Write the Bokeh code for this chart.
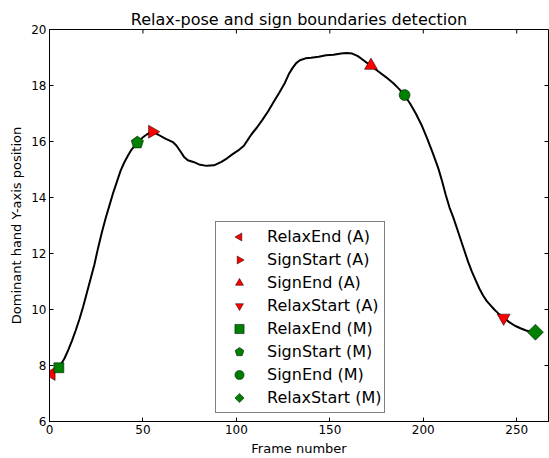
import math
from bokeh.plotting import figure
from bokeh.models import Range1d, Legend, LegendItem, FixedTicker, ColumnDataSource
from bokeh.embed import file_html
from bokeh.resources import INLINE

# ---- data ----
frames = [0, 2, 5, 8, 10, 12, 14, 16, 18, 20, 22, 24, 26, 28, 30, 32, 34, 36, 38, 40,
          42, 44, 47, 50, 52, 55, 58, 62, 66, 68, 70, 72, 74, 77, 80, 84, 88, 92, 95, 98,
          101, 104, 106, 108, 111, 114, 117, 120, 123, 126, 128, 130, 132, 134, 137, 140,
          144, 148, 152, 156, 159, 162, 165, 168, 172, 176, 180, 184, 187, 190, 193, 196,
          199, 202, 205, 208, 210, 212, 214, 216, 218, 220, 222, 224, 226, 228, 230, 232,
          234, 236, 238, 240, 243, 246, 249, 252, 255, 258, 260]
ypos = [7.70, 7.78, 7.92, 8.25, 8.55, 8.88, 9.25, 9.65, 10.1, 10.6, 11.1, 11.6, 12.2, 12.75,
        13.25, 13.7, 14.15, 14.55, 14.95, 15.25, 15.5, 15.72, 15.96, 16.15, 16.25, 16.35,
        16.25, 16.1, 15.98, 15.85, 15.65, 15.45, 15.33, 15.27, 15.18, 15.13, 15.15, 15.27,
        15.4, 15.55, 15.68, 15.85, 16.05, 16.25, 16.5, 16.78, 17.08, 17.42, 17.75, 18.1,
        18.4, 18.62, 18.8, 18.9, 18.97, 18.99, 19.03, 19.08, 19.1, 19.14, 19.16, 19.14,
        19.05, 18.9, 18.7, 18.5, 18.3, 18.08, 17.88, 17.65, 17.35, 17.0, 16.6, 16.12, 15.6,
        15.05, 14.6, 14.1, 13.65, 13.3, 12.9, 12.5, 12.1, 11.7, 11.35, 11.05, 10.75, 10.5,
        10.3, 10.15, 10.0, 9.87, 9.7, 9.55, 9.42, 9.33, 9.25, 9.2, 9.19]

event_labels = ["RelaxEnd (A)", "SignStart (A)", "SignEnd (A)", "RelaxStart (A)",
                "RelaxEnd (M)", "SignStart (M)", "SignEnd (M)", "RelaxStart (M)"]
event_frames = [1, 55, 172, 243, 5, 47, 190, 260]
event_y = [7.70, 16.35, 18.71, 9.70, 7.92, 15.96, 17.66, 9.19]

x_ticks = [0, 50, 100, 150, 200, 250]
y_ticks = [6, 8, 10, 12, 14, 16, 18, 20]
x_min, x_max = 0, 267
y_min, y_max = 6, 20

RED = "#ff0000"
GREEN = "#008000"
FONT = "DejaVu Sans"

p = figure(width=549, height=458, output_backend="svg", toolbar_location=None,
           x_range=Range1d(x_min, x_max), y_range=Range1d(y_min, y_max),
           min_border_left=49, min_border_right=1, min_border_top=29, min_border_bottom=37)

p.title.text = "Relax-pose and sign boundaries detection"
p.title.align = "center"
p.title.text_font = FONT
p.title.text_font_size = "16px"
p.title.text_font_style = "normal"
p.title.text_color = "black"
p.title.standoff = 2

p.xgrid.visible = False
p.ygrid.visible = False
p.outline_line_color = "black"
p.outline_line_width = 1
p.outline_line_alpha = 1

def style_axis(ax, ticks):
    ax.ticker = FixedTicker(ticks=ticks)
    ax.minor_tick_line_color = None
    ax.major_tick_in = 4
    ax.major_tick_out = 0
    ax.major_tick_line_color = "black"
    ax.axis_line_color = "black"
    ax.major_label_text_font = FONT
    ax.major_label_text_color = "black"
    ax.major_label_text_font_size = "12px"
    ax.major_label_standoff = 3
    ax.axis_label_text_font = FONT
    ax.axis_label_text_font_size = "13px"
    ax.axis_label_text_font_style = "normal"
    ax.axis_label_text_color = "black"
    ax.axis_label_standoff = 4

style_axis(p.xaxis[0], x_ticks)
style_axis(p.yaxis[0], y_ticks)
p.xaxis[0].axis_label = "Frame number"
p.yaxis[0].axis_label = "Dominant hand Y-axis position"

# inward ticks on the top and right spines
p.ray(x=x_ticks, y=[y_max] * len(x_ticks), length=4, length_units="screen",
      angle=-math.pi / 2, line_color="black", line_width=1)
p.ray(x=[x_max] * len(y_ticks), y=y_ticks, length=4, length_units="screen",
      angle=math.pi, line_color="black", line_width=1)

p.line(frames, ypos, line_color="black", line_width=2)

# (kind, colour, size, angle, sides); ngon angle 0 = vertex pointing up
specs = [
    ("ngon", RED, 7.5, math.pi / 2, 3),    # pointing left
    ("ngon", RED, 7.5, -math.pi / 2, 3),   # pointing right
    ("ngon", RED, 7.5, 0.0, 3),            # pointing up
    ("ngon", RED, 7.5, math.pi, 3),        # pointing down
    ("square", GREEN, 10, 0.0, 4),
    ("ngon", GREEN, 6.5, 0.0, 5),
    ("circle", GREEN, 11, 0.0, 0),
    ("ngon", GREEN, 8, 0.0, 4),
]

items = []
for i, (kind, color, size, ang, nsides) in enumerate(specs):
    src = ColumnDataSource(dict(x=[event_frames[i]], y=[event_y[i]]))
    if kind == "ngon":
        r = p.ngon(x="x", y="y", radius=size, radius_units="screen", n=nsides,
                   angle=ang, fill_color=color, line_color="black",
                   line_width=0.5, source=src)
    else:
        r = p.scatter(x="x", y="y", marker=kind, size=size,
                      fill_color=color, line_color="black", line_width=0.5, source=src)
    items.append(LegendItem(label=event_labels[i], renderers=[r]))

legend = Legend(items=items, location=(166, 8))
legend.margin = 0
legend.padding = 3
legend.spacing = 0
legend.glyph_width = 40
legend.glyph_height = 23
legend.label_height = 23
legend.label_standoff = 8
legend.label_text_font = FONT
legend.label_text_font_size = "16px"
legend.label_text_color = "black"
legend.border_line_color = "black"
legend.border_line_width = 1
legend.background_fill_alpha = 1
p.add_layout(legend, "center")

open("out.html", "w").write(file_html(p, INLINE))
